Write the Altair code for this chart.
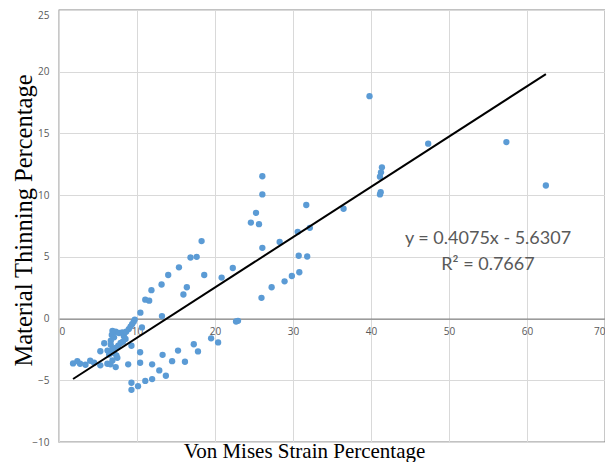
import altair as alt
import pandas as pd

# Von Mises strain (%) and material thinning (%)
strain = [
    1.8, 2.35, 2.7, 3.4, 4.0, 4.5, 5.3,
    5.3, 5.8, 6.2, 6.6, 7.27,
    6.85, 7.27, 6.77, 7.06, 7.69, 8.11, 8.32, 8.61, 8.95, 9.17, 9.37, 9.58, 9.71,
    8.53, 8.2, 7.9, 7.6, 7.27, 6.64, 6.64, 6.85, 7.06, 7.36, 7.48, 6.22, 6.43, 6.85,
    8.87, 9.29, 10.4, 10.4,
    9.29, 10.13, 9.29, 11.06, 11.94, 12.86, 13.7, 11.94, 14.5, 16.15, 13.28, 15.26,
    17.28, 17.82, 19.5, 20.4,
    10.63, 10.43, 13.2, 11.06, 11.56, 11.85, 13.15, 14.0, 15.38, 16.86, 17.65, 18.28,
    18.62, 16.39, 15.95, 20.85, 22.28, 22.7, 22.95,
    24.6, 25.26, 25.64, 26.07, 26.07, 26.07, 25.96, 27.26, 28.29, 28.92, 29.85, 30.6,
    30.73, 30.81, 31.7, 31.82, 32.16,
    36.48, 39.81, 41.4, 41.28, 41.15, 41.24, 41.15, 47.33, 57.36, 62.42,
]
thinning = [
    -3.63, -3.45, -3.66, -3.74, -3.42, -3.58, -3.79,
    -2.65, -2.0, -3.66, -3.71, -3.93,
    -0.99, -1.07, -1.33, -1.52, -1.17, -1.12, -1.44, -1.07, -0.85, -0.65, -0.45, -0.25, -0.08,
    -1.65, -1.87, -1.97, -2.19, -2.38, -1.79, -2.13, -2.51, -2.78, -2.99, -3.18, -2.59, -2.91, -3.39,
    -3.71, -2.2, -2.73, -3.58,
    -5.2, -5.48, -5.77, -5.05, -4.9, -4.2, -4.63, -3.71, -3.45, -3.5, -2.94, -2.59,
    -2.08, -2.66, -1.6, -1.93,
    -0.72, 0.48, 0.2, 1.53, 1.45, 2.3, 2.76, 3.53, 4.15, 4.95, 5.0, 6.28,
    3.53, 2.54, 1.95, 3.32, 4.1, -0.24, -0.18,
    7.78, 8.57, 7.65, 11.53, 10.06, 5.73, 1.68, 2.54, 6.21, 3.02, 3.45, 7.03,
    5.09, 3.75, 9.2, 5.03, 7.35,
    8.9, 18.02, 12.25, 11.85, 11.5, 10.24, 10.06, 14.17, 14.3, 10.78,
]

x_ticks = [0, 10, 20, 30, 40, 50, 60, 70]
y_ticks = [-10, -5, 0, 5, 10, 15, 20, 25]

slope = 0.4075
intercept = -5.6307
equation_label = "y = 0.4075x - 5.6307"
r2_label = "R² = 0.7667"

df = pd.DataFrame({"strain": strain, "thinning": thinning})
line_df = pd.DataFrame({"strain": [min(strain), max(strain)]})

xscale = alt.Scale(domain=[0, 70], nice=False, zero=False)
yscale = alt.Scale(domain=[-10, 25], nice=False, zero=False)

label_color = "#595959"

PLOT_W = 546
PLOT_H = 432
TOP = 10  # absolute y of the plot top in the page
zero_y = PLOT_H * 25 / 35  # pixel distance from top of plot to the y=0 line

x_axis = alt.Axis(
    values=x_ticks, offset=zero_y - PLOT_H, ticks=False, labelPadding=8,
    labelFontSize=10, labelColor=label_color, labelFont="Open Sans",
    domainColor="#868686", domainWidth=1.3,
    gridColor="#d9d9d9", gridWidth=1,
    title="Von Mises Strain Percentage", titleFont="Liberation Serif",
    titleFontSize=21, titleFontWeight="normal", titleColor="#000000",
    titleX=245, titleY=457.3 - TOP - zero_y, titleAlign="center",
    titleBaseline="alphabetic",
)
y_axis = alt.Axis(
    values=y_ticks, ticks=False, domain=False, labelPadding=10,
    labelFontSize=10, labelColor=label_color, labelFont="Open Sans",
    labelOffset=alt.ConditionalAxisNumber(
        condition={"test": "datum.value == 25", "value": 5}, value=0
    ),
    gridColor="#d9d9d9", gridWidth=1,
    title="Material Thinning Percentage", titleFont="Liberation Serif",
    titleFontSize=24.5, titleFontWeight="normal", titleColor="#000000",
    titleX=-35, titleY=220 - TOP, titleAngle=270, titleAlign="center",
    titleBaseline="middle",
)

points = alt.Chart(df).mark_circle(size=40, color="#5B9BD5", opacity=1).encode(
    x=alt.X("strain:Q", scale=xscale, axis=x_axis),
    y=alt.Y("thinning:Q", scale=yscale, axis=y_axis),
)

trend = alt.Chart(line_df).transform_calculate(
    thinning=f"{slope} * datum.strain + ({intercept})"
).mark_line(color="#000000", strokeWidth=2).encode(
    x=alt.X("strain:Q", scale=xscale),
    y=alt.Y("thinning:Q", scale=yscale),
)

eq_text = alt.Chart(pd.DataFrame({"t": [equation_label]})).mark_text(
    font="Lato", fontSize=18, color=label_color, align="center", baseline="middle"
).encode(x=alt.value(429), y=alt.value(239 - TOP), text="t:N")

r2_text = alt.Chart(pd.DataFrame({"t": [r2_label]})).mark_text(
    font="Lato", fontSize=18, color=label_color, align="center", baseline="middle"
).encode(x=alt.value(429), y=alt.value(265 - TOP), text="t:N")

chart = alt.layer(points, trend, eq_text, r2_text).properties(
    width=PLOT_W, height=PLOT_H,
    autosize=alt.AutoSizeParams(type="none"),
    padding={"left": 51, "top": TOP - 8, "right": 0, "bottom": 454 - (TOP - 8) - PLOT_H},
).configure_view(stroke="#868686", strokeWidth=1.3)

chart.save("out.html", embed_options={"renderer": "svg", "actions": False})
